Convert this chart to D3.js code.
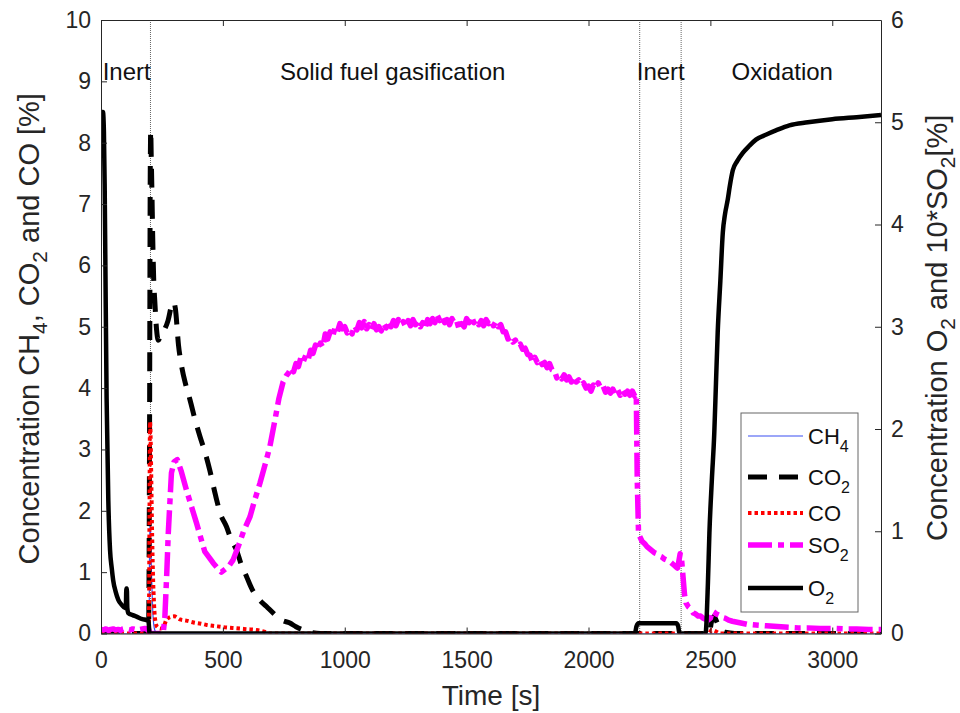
<!DOCTYPE html>
<html>
<head>
<meta charset="utf-8">
<script src="https://cdn.jsdelivr.net/npm/d3@7"></script>
<style>
  html, body { margin: 0; padding: 0; background: #fff; }
  svg { display: block; font-family: "Liberation Sans", Arial, Helvetica, sans-serif; }
</style>
</head>
<body>
<svg id="chart" width="960" height="713"></svg>
<script>
// ---- measured gas concentrations, time in seconds ----
// left axis: CH4, CO2, CO [%]
const tCH4 = [0, 197, 200, 203, 207, 212, 218, 225, 240, 3200];
const vCH4 = [0, 0, 1.8, 1.7, 1.0, 0.4, 0.1, 0.02, 0, 0];

const tCO2 = [0, 195, 199, 202, 204, 206, 209, 212, 216, 221, 228, 235, 245, 260, 275, 290, 298, 305, 318, 331, 348, 365, 385, 406, 427, 447, 470, 490, 515, 535, 556, 575, 597, 620, 650, 679, 710, 740, 775, 800, 828, 860, 900, 2495, 2505, 2515, 2525, 2540, 2560, 2600, 3200];
const vCO2 = [0, 0, 3.0, 7.5, 8.2, 7.8, 7.2, 6.5, 5.8, 5.4, 4.95, 4.78, 4.85, 4.95, 5.1, 5.35, 5.4, 5.3, 4.7, 4.35, 4.05, 3.81, 3.5, 3.21, 2.95, 2.65, 2.25, 1.95, 1.74, 1.52, 1.36, 1.13, 0.93, 0.72, 0.55, 0.44, 0.32, 0.22, 0.17, 0.11, 0.06, 0.02, 0, 0, 0.2, 0.28, 0.2, 0.08, 0.02, 0, 0];

const tCO = [0, 196, 199, 201, 203, 206, 209, 213, 218, 224, 232, 245, 258, 268, 285, 300, 324, 350, 380, 410, 433, 470, 510, 556, 600, 638, 670, 690, 2495, 2505, 2520, 2540, 3200];
const vCO = [0, 0, 2.0, 3.45, 3.3, 2.6, 1.8, 1.0, 0.45, 0.18, 0.1, 0.08, 0.12, 0.22, 0.27, 0.28, 0.23, 0.21, 0.18, 0.16, 0.14, 0.12, 0.1, 0.085, 0.07, 0.057, 0.03, 0, 0, 0.06, 0.04, 0, 0];

// right axis: 10*SO2 and O2 [%]
const tSO2 = [0, 10, 20, 30, 40, 50, 60, 70, 80, 90, 100, 110, 120, 130, 140, 150, 160, 170, 180, 190, 196, 200, 255, 262, 270, 276, 283, 289, 300, 313, 330, 351, 370, 392, 410, 426, 445, 460, 478, 494, 510, 525, 542, 563, 585, 611, 630, 652, 673, 693, 713, 730, 747, 760,
  770, 780, 790, 800, 810, 820, 830, 840, 850, 860, 870, 880, 890, 900, 910, 920, 930, 940, 950, 960, 970, 980, 990,
  1000, 1010, 1020, 1030, 1040, 1050, 1060, 1070, 1080, 1090, 1100, 1110, 1120, 1130, 1140, 1150, 1160, 1170, 1180, 1190,
  1200, 1210, 1220, 1230, 1240, 1250, 1260, 1270, 1280, 1290, 1300, 1310, 1320, 1330, 1340, 1350, 1360, 1370, 1380, 1390,
  1400, 1410, 1420, 1430, 1440, 1450, 1460, 1470, 1480, 1490, 1500, 1510, 1520, 1530, 1540, 1550, 1560, 1570, 1580, 1590,
  1600, 1610, 1620, 1630, 1640, 1650, 1660, 1670, 1680, 1690, 1700, 1710, 1720, 1730, 1740, 1750, 1760, 1770, 1780, 1790,
  1800, 1810, 1820, 1830, 1840, 1850, 1860, 1870, 1880, 1890, 1900, 1910, 1920, 1930, 1940, 1950, 1960, 1970, 1980, 1990,
  2000, 2010, 2020, 2030, 2040, 2050, 2060, 2070, 2080, 2090, 2100, 2110, 2120, 2130, 2140, 2150, 2160, 2170, 2180, 2190, 2196,
  2200, 2205, 2210, 2220, 2230, 2240, 2250, 2260, 2270, 2280, 2290, 2300, 2310, 2320, 2330, 2340, 2350, 2360, 2365, 2370, 2376, 2382, 2388, 2394, 2400, 2410,
  2420, 2430, 2440, 2450, 2460, 2470, 2480, 2490, 2500, 2508, 2515, 2525, 2535, 2545, 2560, 2575, 2590, 2610, 2630, 2650, 2675, 2700, 2730, 2760, 2790, 2820, 2860, 2900, 2950, 3000, 3050, 3100, 3150, 3200];
const vSO2 = [0.04, 0.035, 0.045, 0.03, 0.04, 0.045, 0.035, 0.04, 0.03, 0.045, 0.05, 0.04, 0.035, 0.045, 0.04, 0.05, 0.04, 0.045, 0.05, 0.04, 0.04, 0, 0, 0.16, 0.6, 0.98, 1.3, 1.57, 1.68, 1.70, 1.58, 1.40, 1.25, 1.08, 0.93, 0.80, 0.74, 0.69, 0.64, 0.60, 0.63, 0.66, 0.72, 0.85, 1.0, 1.14, 1.30, 1.47, 1.65, 1.83, 2.08, 2.30, 2.46, 2.52,
  2.55, 2.60, 2.56, 2.64, 2.61, 2.70, 2.66, 2.72, 2.68, 2.77, 2.74, 2.82, 2.78, 2.84, 2.80, 2.93, 2.88, 2.95, 2.90, 2.99, 2.95, 3.03, 2.98,
  3.00, 2.94, 2.97, 2.93, 3.01, 2.97, 3.04, 2.99, 3.05, 2.98, 3.02, 2.97, 3.03, 2.97, 3.00, 2.96, 3.03, 2.99, 3.05, 3.00,
  3.06, 3.01, 3.07, 3.02, 3.05, 3.00, 3.06, 3.01, 3.07, 3.02, 3.05, 3.00, 3.04, 2.99, 3.07, 3.03, 3.08, 3.04, 3.11, 3.06,
  3.10, 3.04, 3.07, 3.02, 3.08, 3.03, 3.05, 2.97, 3.03, 3.00, 3.08, 3.04, 3.10, 3.04, 3.07, 3.02, 3.06, 3.01, 3.07, 3.03,
  3.06, 3.01, 3.05, 3.00, 3.02, 2.95, 2.95, 2.88, 2.90, 2.85, 2.87, 2.81, 2.83, 2.78, 2.79, 2.73, 2.72, 2.66, 2.70, 2.65,
  2.68, 2.63, 2.65, 2.60, 2.64, 2.58, 2.57, 2.50, 2.53, 2.49, 2.53, 2.48, 2.51, 2.46, 2.51, 2.46, 2.48, 2.43, 2.45, 2.40,
  2.42, 2.37, 2.43, 2.40, 2.45, 2.40, 2.42, 2.36, 2.39, 2.35, 2.39, 2.34, 2.38, 2.33, 2.38, 2.34, 2.37, 2.33, 2.37, 2.32, 2.34,
  1.5, 1.0, 0.95, 0.90, 0.88, 0.85, 0.83, 0.81, 0.79, 0.78, 0.76, 0.75, 0.73, 0.72, 0.71, 0.69, 0.67, 0.65, 0.64, 0.70, 0.78, 0.72, 0.55, 0.38, 0.30, 0.26,
  0.24, 0.20, 0.19, 0.17, 0.17, 0.15, 0.14, 0.13, 0.15, 0.22, 0.21, 0.19, 0.18, 0.16, 0.15, 0.13, 0.12, 0.11, 0.10, 0.09, 0.085, 0.08, 0.075, 0.07, 0.065, 0.06, 0.055, 0.055, 0.05, 0.05, 0.045, 0.045, 0.04, 0.04];

const tO2 = [0, 8, 12, 15, 18, 23, 30, 37, 44, 50, 60, 71, 85, 98, 102, 104, 106, 108, 112, 130, 146, 170, 187, 195, 199, 2190, 2197, 2205, 2360, 2368, 2373, 2480, 2490, 2496, 2506, 2516, 2523, 2530, 2541, 2551, 2560, 2571, 2580, 2592, 2610, 2633, 2660, 2687, 2730, 2769, 2824, 2900, 3000, 3100, 3200];
const vO2 = [5.1, 5.1, 4.9, 4.4, 3.6, 2.3, 1.3, 0.82, 0.64, 0.52, 0.41, 0.33, 0.28, 0.25, 0.27, 0.44, 0.44, 0.25, 0.2, 0.18, 0.165, 0.14, 0.13, 0.12, 0, 0, 0.07, 0.1, 0.1, 0.07, 0, 0, 0.5, 0.98, 1.5, 1.96, 2.45, 2.94, 3.45, 3.92, 4.1, 4.24, 4.38, 4.53, 4.62, 4.70, 4.77, 4.83, 4.88, 4.92, 4.97, 5.0, 5.03, 5.05, 5.07];

// axis ticks
const xTicks = [0, 500, 1000, 1500, 2000, 2500, 3000];
const yLeftTicks = [0, 1, 2, 3, 4, 5, 6, 7, 8, 9, 10];
const yRightTicks = [0, 1, 2, 3, 4, 5, 6];

// experiment phases: boundaries and labels (time of label start)
const phaseBounds = [203, 2210, 2380];
const phaseNames = ["Inert", "Solid fuel gasification", "Inert", "Oxidation"];
const phaseLabelT = [7, 734, 2198, 2587];

// ---- layout ----
const svg = d3.select("#chart");
const L = 101, R = 881, T = 20, B = 633.5;
const axisColor = "#262626";

const x = d3.scaleLinear().domain([0, 3200]).range([L, R]);
const yL = d3.scaleLinear().domain([0, 10]).range([B, T]);
const yR = d3.scaleLinear().domain([0, 6]).range([B, T]);

svg.append("defs").append("clipPath").attr("id", "plotclip")
  .append("rect").attr("x", L).attr("y", T - 2).attr("width", R - L).attr("height", B - T + 2);

// phase boundaries
svg.append("g").selectAll("line").data(phaseBounds).join("line")
  .attr("x1", d => x(d)).attr("x2", d => x(d))
  .attr("y1", T).attr("y2", B)
  .attr("stroke", "#555").attr("stroke-width", 0.9)
  .attr("stroke-dasharray", "1,1");

// series definitions (smooth = monotone interpolation for the analyser traces)
const series = [
  { name: ["CH", "4"], t: tCH4, v: vCH4, y: yL, color: "#3b4ef2", width: 1.2, dash: null, smooth: true },
  { name: ["CO", "2"], t: tCO2, v: vCO2, y: yL, color: "#000", width: 5, dash: "19,12", smooth: true },
  { name: ["CO", ""], t: tCO, v: vCO, y: yL, color: "#ff0000", width: 4, dash: "3.5,3", smooth: true },
  { name: ["SO", "2"], t: tSO2, v: vSO2, y: yR, color: "#ff00ff", width: 5.5, dash: "24,6,6,6", smooth: false },
  { name: ["O", "2"], t: tO2, v: vO2, y: yR, color: "#000", width: 4.5, dash: null, smooth: true }
];

const plot = svg.append("g").attr("clip-path", "url(#plotclip)");
series.forEach(s => {
  const pts = s.t.map((t, i) => [t, s.v[i]]);
  const line = d3.line().x(d => x(d[0])).y(d => s.y(d[1]))
    .curve(s.smooth ? d3.curveMonotoneX : d3.curveLinear);
  plot.append("path")
    .attr("d", line(pts))
    .attr("fill", "none")
    .attr("stroke", s.color)
    .attr("stroke-width", s.width)
    .attr("stroke-linejoin", "round")
    .attr("stroke-dasharray", s.dash);
});

// phase labels
svg.append("g").selectAll("text").data(phaseNames).join("text")
  .attr("x", (d, i) => x(phaseLabelT[i]))
  .attr("y", yL(9.02))
  .attr("font-size", 24)
  .attr("fill", "#111")
  .text(d => d);

// axes (ticks inward, boxed)
function styleAxis(g) {
  g.selectAll("path.domain").attr("stroke", axisColor).attr("stroke-width", 1);
  g.selectAll(".tick line").attr("stroke", axisColor).attr("stroke-width", 1);
  g.selectAll(".tick text").attr("fill", axisColor).attr("font-size", 23)
    .attr("font-family", '"Liberation Sans", Arial, Helvetica, sans-serif');
}
const fmt = d3.format("d");

svg.append("g").attr("transform", `translate(0,${B})`)
  .call(d3.axisBottom(x).tickValues(xTicks).tickFormat(fmt).tickSizeInner(-6).tickSizeOuter(0).tickPadding(18))
  .call(styleAxis);
svg.append("g").attr("transform", `translate(0,${T})`)
  .call(d3.axisTop(x).tickValues(xTicks).tickSizeInner(-6).tickSizeOuter(0).tickFormat(""))
  .call(styleAxis);
svg.append("g").attr("transform", `translate(${L},0)`)
  .call(d3.axisLeft(yL).tickValues(yLeftTicks).tickFormat(fmt).tickSizeInner(-6).tickSizeOuter(0).tickPadding(10))
  .call(styleAxis);
svg.append("g").attr("transform", `translate(${R},0)`)
  .call(d3.axisRight(yR).tickValues(yRightTicks).tickFormat(fmt).tickSizeInner(-6).tickSizeOuter(0).tickPadding(10))
  .call(styleAxis);

// axis titles with subscripts
function richText(g, parts, size) {
  parts.forEach(p => {
    if (p.sub) {
      g.append("tspan").text(p.s).attr("font-size", size * 0.72).attr("dy", size * 0.28);
    } else {
      const ts = g.append("tspan").text(p.s);
      if (p.after) ts.attr("dy", -size * 0.28);
    }
  });
}

svg.append("text")
  .attr("x", (L + R) / 2).attr("y", 705)
  .attr("text-anchor", "middle").attr("font-size", 28).attr("fill", axisColor)
  .text("Time [s]");

const yTitleL = svg.append("text")
  .attr("transform", `translate(38.5,${(T + B) / 2 + 2}) rotate(-90)`)
  .attr("text-anchor", "middle").attr("font-size", 29).attr("fill", axisColor);
richText(yTitleL, [
  { s: "Concentration CH" }, { s: "4", sub: true }, { s: ", CO", after: true },
  { s: "2", sub: true }, { s: " and CO [%]", after: true }
], 29);

const yTitleR = svg.append("text")
  .attr("transform", `translate(947,${(T + B) / 2 + 1}) rotate(-90)`)
  .attr("text-anchor", "middle").attr("font-size", 29).attr("fill", axisColor);
richText(yTitleR, [
  { s: "Concentration O" }, { s: "2", sub: true }, { s: " and 10*SO", after: true },
  { s: "2", sub: true }, { s: "[%]", after: true }
], 29);

// legend
const legY = [436, 477, 513, 545, 588];
const leg = svg.append("g");
leg.append("rect").attr("x", 741).attr("y", 413).attr("width", 117).attr("height", 199)
  .attr("fill", "#fff").attr("stroke", "#666").attr("stroke-width", 1);
series.forEach((s, i) => {
  leg.append("line")
    .attr("x1", 748).attr("x2", 803).attr("y1", legY[i]).attr("y2", legY[i])
    .attr("stroke", s.color).attr("stroke-width", s.width)
    .attr("stroke-dasharray", s.dash);
  const tx = leg.append("text").attr("x", 808).attr("y", legY[i] + 8)
    .attr("font-size", 22).attr("fill", "#111");
  tx.append("tspan").text(s.name[0]);
  if (s.name[1]) tx.append("tspan").text(s.name[1]).attr("font-size", 16).attr("dy", 8);
});
</script>
</body>
</html>
